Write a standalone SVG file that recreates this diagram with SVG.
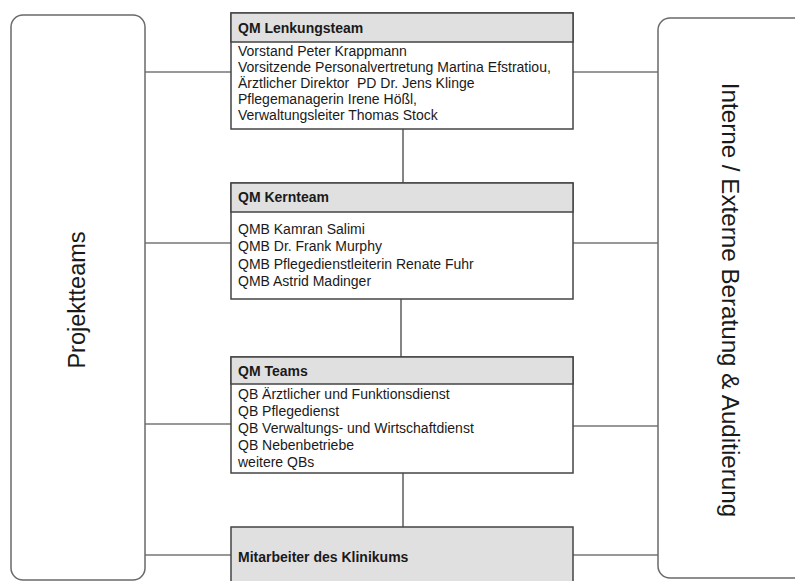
<svg xmlns="http://www.w3.org/2000/svg" width="795" height="581" viewBox="0 0 795 581">
<style>
.side{fill:#fff;stroke:#6a6a6a;stroke-width:1.5}
.box{fill:#fff;stroke:#444;stroke-width:1.5}
.hdr{fill:#e0e0e0;stroke:#444;stroke-width:1.5}
.conn line{stroke:#333;stroke-width:1.2}
.t{font-family:"Liberation Sans",Arial,sans-serif;font-size:14px;fill:#1a1a1a;white-space:pre}
.b{font-weight:bold}
.big{font-family:"Liberation Sans",Arial,sans-serif;font-size:23.5px;fill:#1a1a1a;text-anchor:middle}
</style>
<rect width="795" height="581" fill="#fff"/>
<g id="connectors" class="conn">
<line x1="145" y1="72" x2="231" y2="72"/>
<line x1="573" y1="72" x2="658" y2="72"/>
<line x1="403" y1="129" x2="403" y2="183"/>
<line x1="145" y1="243" x2="231" y2="243"/>
<line x1="573" y1="243" x2="658" y2="243"/>
<line x1="401" y1="299" x2="401" y2="357"/>
<line x1="145" y1="424" x2="231" y2="424"/>
<line x1="573" y1="426" x2="658" y2="426"/>
<line x1="403" y1="473" x2="403" y2="527"/>
<line x1="145" y1="555" x2="231" y2="555"/>
<line x1="573" y1="555" x2="658" y2="555"/>
</g>
<g id="projektteams">
<rect class="side" x="11" y="15" width="134" height="565" rx="12"/>
<text class="big" transform="translate(85,300) rotate(-90)">Projektteams</text>
</g>
<g id="beratung">
<rect class="side" x="658" y="18" width="160" height="560" rx="12"/>
<text class="big" style="font-size:24.2px" transform="translate(722,300) rotate(90)">Interne / Externe Beratung &amp; Auditierung</text>
</g>
<g id="lenkungsteam">
<rect class="box" x="231" y="13" width="342" height="116"/>
<rect class="hdr" x="231" y="13" width="342" height="29"/>
<text class="t b" x="238" y="32.5">QM Lenkungsteam</text>
<text class="t" x="238" y="55.5">Vorstand Peter Krappmann</text>
<text class="t" x="238" y="71.7">Vorsitzende Personalvertretung Martina Efstratiou,</text>
<text class="t" x="238" y="87.9" xml:space="preserve">Ärztlicher Direktor  PD Dr. Jens Klinge</text>
<text class="t" x="238" y="104.1">Pflegemanagerin Irene Hößl,</text>
<text class="t" x="238" y="120.3">Verwaltungsleiter Thomas Stock</text>
</g>
<g id="kernteam">
<rect class="box" x="231" y="183" width="342" height="116"/>
<rect class="hdr" x="231" y="183" width="342" height="29"/>
<text class="t b" x="238" y="202">QM Kernteam</text>
<text class="t" x="238" y="233.5">QMB Kamran Salimi</text>
<text class="t" x="238" y="251">QMB Dr. Frank Murphy</text>
<text class="t" x="238" y="268.5">QMB Pflegedienstleiterin Renate Fuhr</text>
<text class="t" x="238" y="286">QMB Astrid Madinger</text>
</g>
<g id="qmteams">
<rect class="box" x="231" y="357" width="342" height="116"/>
<rect class="hdr" x="231" y="357" width="342" height="27"/>
<text class="t b" x="238" y="375.5">QM Teams</text>
<text class="t" x="238" y="398.5">QB Ärztlicher und Funktionsdienst</text>
<text class="t" x="238" y="415.5">QB Pflegedienst</text>
<text class="t" x="238" y="432.5">QB Verwaltungs- und Wirtschaftdienst</text>
<text class="t" x="238" y="449.5">QB Nebenbetriebe</text>
<text class="t" x="238" y="466.5">weitere QBs</text>
</g>
<g id="mitarbeiter">
<rect class="hdr" x="231" y="527" width="342" height="70"/>
<text class="t b" x="238" y="561.5">Mitarbeiter des Klinikums</text>
</g>
</svg>
